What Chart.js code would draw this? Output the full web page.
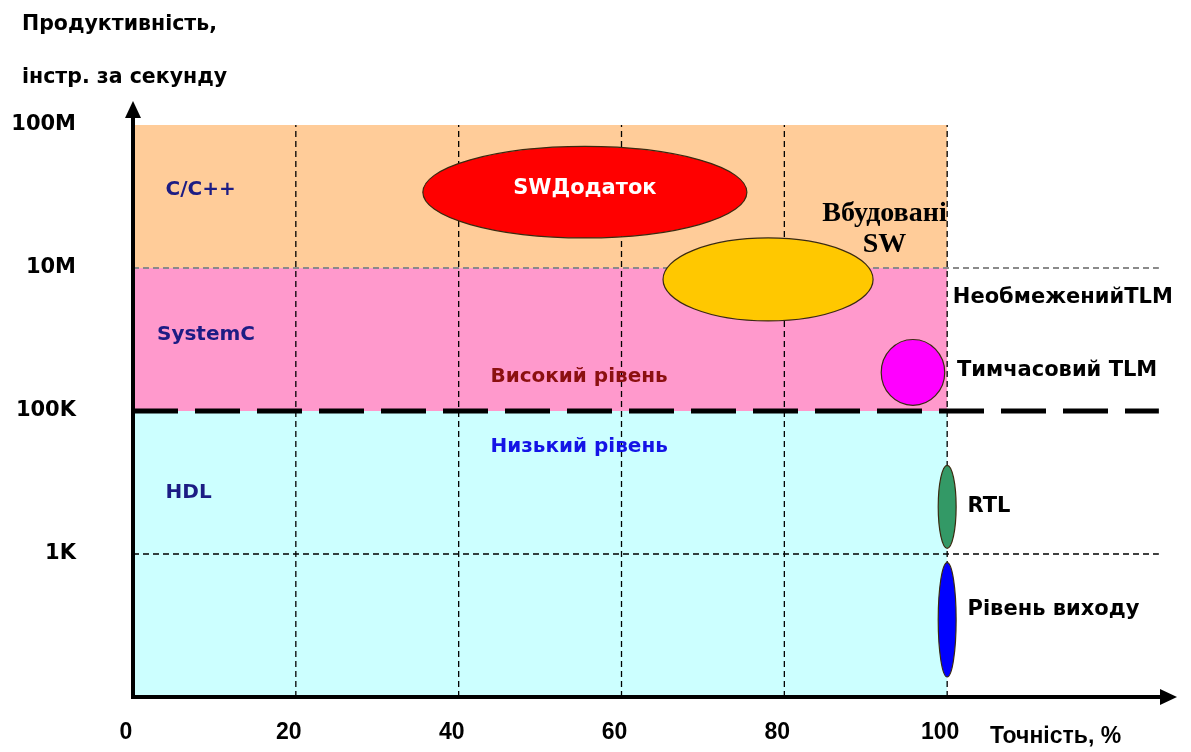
<!DOCTYPE html>
<html lang="uk">
<head>
<meta charset="utf-8">
<title>Продуктивність / точність</title>
<script src="https://cdn.jsdelivr.net/npm/chart.js@4.4.1/dist/chart.umd.min.js"></script>
<style>
  html, body { margin: 0; padding: 0; background: #fff; }
  #wrap { width: 1191px; height: 752px; position: relative; }
</style>
</head>
<body>
<div id="wrap"><canvas id="chart"></canvas></div>
<script>
// ---------- data ----------
const xTicks = [0, 20, 40, 60, 80, 100];
const xGridValues = [20, 40, 60, 80, 100];
const yTickValues = [1, 2, 3, 4];
const yTickLabels = ['1K', '100K', '10M', '100M'];

// abstraction bands, bottom -> top (y in level units)
const bandNames = ['HDL', 'SystemC', 'C/C++'];
const bandFrom = [0, 2, 3];
const bandTo = [2, 3, 4];
const bandEndX = 100;

// model ellipses: centre (accuracy %, level) and half sizes in the same units
const modelKeys = ['swApp', 'untimedTlm', 'timedTlm', 'rtl', 'gate'];
const modelX  = [55.5, 78, 95.8, 100, 100];
const modelY  = [3.53, 2.92, 2.27, 1.33, 0.54];
const modelRx = [19.9, 12.9, 3.9, 1.1, 1.1];
const modelRy = [0.32, 0.29, 0.23, 0.29, 0.40];

// level reference lines (1K, 100K, 10M)
const levelLines = [1, 2, 3];

// ---------- styles ----------
const bandColors = ['#ccffff', '#ff99cc', '#ffcc99'];
const modelColors = ['#ff0000', '#ffc800', '#ff00ff', '#339966', '#0000ff'];
const FONT = '"DejaVu Sans", Verdana, sans-serif';

function txt(ctx, s, x, y, font, color, align) {
    ctx.font = font;
    ctx.fillStyle = color;
    ctx.textAlign = align || 'left';
    ctx.textBaseline = 'middle';
    ctx.fillText(s, x, y);
}

const diagramPlugin = {
    id: 'diagram',
    beforeDraw(chart) {
        const { ctx, scales: { x, y } } = chart;
        ctx.save();
        ctx.fillStyle = '#fff';
        ctx.fillRect(0, 0, chart.width, chart.height);
        bandFrom.forEach((from, i) => {
            const top = y.getPixelForValue(bandTo[i]);
            const bot = y.getPixelForValue(from);
            const l = x.getPixelForValue(0);
            ctx.fillStyle = bandColors[i];
            ctx.fillRect(l, top, x.getPixelForValue(bandEndX) - l, bot - top);
        });
        ctx.restore();
    },
    afterDraw(chart) {
        const { ctx, scales: { x, y } } = chart;
        const px = v => x.getPixelForValue(v);
        const py = v => y.getPixelForValue(v);
        ctx.save();

        // vertical dashed grid
        ctx.strokeStyle = '#000';
        ctx.lineWidth = 1.3;
        ctx.setLineDash([6, 4]);
        xGridValues.forEach(v => {
            ctx.beginPath();
            ctx.moveTo(px(v), py(0));
            ctx.lineTo(px(v), py(4));
            ctx.stroke();
        });

        // level lines
        const lineEnd = px(126);
        levelLines.forEach(v => {
            ctx.beginPath();
            if (v === 2) { ctx.strokeStyle = '#000'; ctx.lineWidth = 5; ctx.setLineDash([45, 17]); }
            else if (v === 3) { ctx.strokeStyle = '#8a8a8a'; ctx.lineWidth = 2; ctx.setLineDash([6, 4]); }
            else { ctx.strokeStyle = '#000'; ctx.lineWidth = 1.3; ctx.setLineDash([6, 4]); }
            ctx.moveTo(px(0), py(v));
            ctx.lineTo(lineEnd, py(v));
            ctx.stroke();
        });
        ctx.setLineDash([]);

        // ellipses
        modelKeys.forEach((k, i) => {
            const cx = px(modelX[i]), cy = py(modelY[i]);
            const rx = px(modelX[i] + modelRx[i]) - cx;
            const ry = cy - py(modelY[i] + modelRy[i]);
            ctx.beginPath();
            ctx.ellipse(cx, cy, rx, ry, 0, 0, Math.PI * 2);
            ctx.fillStyle = modelColors[i];
            ctx.fill();
            ctx.lineWidth = 1.2;
            ctx.strokeStyle = '#3a2a10';
            ctx.stroke();
        });

        // axes with arrows
        const ox = px(0), oy = py(0);
        ctx.fillStyle = '#000';
        ctx.fillRect(ox - 2, 110, 4, oy - 110 + 2);
        ctx.fillRect(ox - 2, oy - 2, 1165 - ox, 4);
        ctx.beginPath();
        ctx.moveTo(ox, 101); ctx.lineTo(ox - 8, 118); ctx.lineTo(ox + 8, 118); ctx.closePath();
        ctx.fill();
        ctx.beginPath();
        ctx.moveTo(1177, oy); ctx.lineTo(1160, oy - 8); ctx.lineTo(1160, oy + 8); ctx.closePath();
        ctx.fill();

        // axis titles
        txt(ctx, 'Продуктивність,', 22, 25, 'bold 20.5px ' + FONT, '#000');
        txt(ctx, 'інстр. за секунду', 22, 78, 'bold 20.5px ' + FONT, '#000');
        txt(ctx, 'Точність, %', 990, 737, 'bold 23px "Liberation Sans", Arial, sans-serif', '#000');

        // band names
        const navy = '#1c1c84';
        txt(ctx, bandNames[2], px(4), py(3.55), 'bold 20px ' + FONT, navy);
        txt(ctx, bandNames[1], px(2.95), py(2.53), 'bold 20px ' + FONT, navy);
        txt(ctx, bandNames[0], px(4), py(1.43), 'bold 20px ' + FONT, navy);
        txt(ctx, 'Високий рівень', px(43.9), py(2.24), 'bold 20px ' + FONT, '#8b1010');
        txt(ctx, 'Низький рівень', px(43.9), py(1.75), 'bold 20px ' + FONT, '#1414e6');

        // model labels
        txt(ctx, 'SWДодаток', px(modelX[0]), py(modelY[0]) - 4, 'bold 21px ' + FONT, '#fff', 'center');
        const serif = 'bold 28px "Liberation Serif", "Times New Roman", serif';
        txt(ctx, 'Вбудовані', px(92.3), py(3.38), serif, '#000', 'center');
        txt(ctx, 'SW', px(92.3), py(3.16), serif, '#000', 'center');
        txt(ctx, 'НеобмеженийTLM', px(100.7), py(2.79), 'bold 21px ' + FONT, '#000');
        txt(ctx, 'Тимчасовий TLM', px(101.2), py(2.28), 'bold 21px ' + FONT, '#000');
        txt(ctx, 'RTL', px(102.5), py(1.33), 'bold 21px ' + FONT, '#000');
        txt(ctx, 'Рівень виходу', px(102.5), py(0.61), 'bold 21px ' + FONT, '#000');

        ctx.restore();
    }
};

new Chart(document.getElementById('chart'), {
    type: 'scatter',
    data: { datasets: [] },
    options: {
        responsive: true,
        maintainAspectRatio: false,
        animation: false,
        layout: { padding: { top: 125, right: 24, bottom: 0, left: 0 } },
        plugins: { legend: { display: false }, tooltip: { enabled: false } },
        scales: {
            x: {
                type: 'linear', min: 0, max: 127,
                afterFit(s) { s.height = 55; s.paddingLeft = 0; s.paddingRight = 0; },
                afterBuildTicks(s) { s.ticks = xTicks.map(v => ({ value: v })); },
                grid: { display: false, drawTicks: false },
                border: { display: false },
                ticks: {
                    padding: 22, labelOffset: -7, maxRotation: 0, autoSkip: false, color: '#000',
                    font: { family: '"Liberation Sans", Arial, sans-serif', size: 23, weight: 'bold' }
                }
            },
            y: {
                type: 'linear', min: 0, max: 4,
                // labels sit far from the axis; keep that gap out of the layout padding
                afterFit(s) { s.width = 133; s.paddingTop = 0; s.paddingBottom = 0; },
                afterBuildTicks(s) { s.ticks = yTickValues.map(v => ({ value: v })); },
                grid: { display: false, drawTicks: false },
                border: { display: false },
                ticks: {
                    padding: 57, autoSkip: false, color: '#000',
                    font: { family: FONT, size: 21, weight: 'bold' },
                    callback: v => yTickLabels[yTickValues.indexOf(v)]
                }
            }
        }
    },
    plugins: [diagramPlugin]
});
</script>
</body>
</html>
